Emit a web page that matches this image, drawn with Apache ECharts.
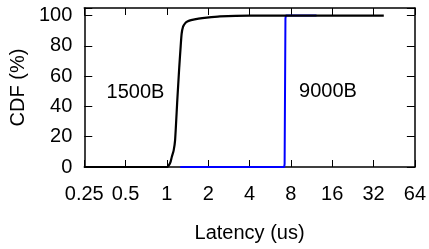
<!DOCTYPE html>
<html>
<head>
<meta charset="utf-8">
<script src="https://cdn.jsdelivr.net/npm/echarts@6/dist/echarts.min.js"></script>
<style>
  html, body { margin: 0; padding: 0; background: #fff; }
  #chart { width: 429px; height: 249px; }
</style>
</head>
<body>
<div id="chart"></div>
<script>
// 1500B packets, CDF of latency (us, %)
const x1500 = [0.25, 1.0, 1.03, 1.06, 1.085, 1.12, 1.147, 1.19, 1.23, 1.26, 1.28, 1.31, 1.36, 1.42, 1.5, 1.7, 1.95, 2.43, 4, 38];
const y1500 = [0, 0, 1, 3, 6.6, 11, 17.7, 44, 66, 80, 88, 92.5, 95, 96.2, 97, 98, 98.7, 99.5, 100, 100];

// 9000B packets
const x9000 = [1.25, 7.15, 7.2, 7.3, 7.35, 12.3];
const y9000 = [0, 0, 2, 98, 100, 100];

const xTicks = [0.25, 0.5, 1, 2, 4, 8, 16, 32, 64];
const yTicks = [0, 20, 40, 60, 80, 100];

// text labels inside the plot
const noteText = ["1500B", "9000B"];
const noteX = [0.59, 14.9];
const noteY = [49.5, 50];

const FONT = "Liberation Sans";
const pair = (xs, ys) => xs.map((x, i) => [x, ys[i]]);

const chart = echarts.init(document.getElementById("chart"));

const logX = (pos, show) => ({
  type: "log",
  logBase: 2,
  position: pos,
  min: xTicks[0],
  max: xTicks[xTicks.length - 1],
  splitNumber: xTicks.length - 1,
  axisLine: { show: true, onZero: false, lineStyle: { color: "#000", width: 1.5 } },
  axisTick: { show: true, inside: true, length: 7, lineStyle: { color: "#000" } },
  axisLabel: {
    show: show,
    margin: 17,
    color: "#000",
    fontFamily: FONT,
    fontSize: 20,
    formatter: (v) => String(Number(v.toPrecision(3))),
  },
  splitLine: { show: false },
});

const linY = (pos, show) => ({
  type: "value",
  position: pos,
  min: 0,
  max: 105,
  interval: 20,
  axisLine: { show: true, lineStyle: { color: "#000", width: 1.5 } },
  axisTick: { show: true, inside: true, length: 8, lineStyle: { color: "#000" } },
  axisLabel: {
    show: show,
    margin: 12,
    color: "#000",
    fontFamily: FONT,
    fontSize: 20,
    formatter: (v) => (yTicks.indexOf(v) >= 0 ? String(v) : ""),
  },
  splitLine: { show: false },
});

const xBottom = logX("bottom", true);
xBottom.name = "Latency (us)";
xBottom.nameLocation = "middle";
xBottom.nameGap = 56;
xBottom.nameTextStyle = { color: "#000", fontFamily: FONT, fontSize: 20 };

const yLeft = linY("left", true);
yLeft.name = "CDF (%)";
yLeft.nameLocation = "middle";
yLeft.nameGap = 48;
yLeft.nameTextStyle = { color: "#000", fontFamily: FONT, fontSize: 20 };

const option = {
  animation: false,
  grid: { left: 84, right: 14, top: 8, bottom: 82 },
  xAxis: [xBottom, logX("top", false)],
  yAxis: [yLeft, linY("right", false)],
  series: [
    {
      name: "1500B",
      type: "line",
      data: pair(x1500, y1500),
      showSymbol: false,
      smooth: 0.2,
      lineStyle: { color: "#000", width: 2.2 },
      z: 3,
    },
    {
      name: "9000B",
      type: "line",
      data: pair(x9000, y9000),
      showSymbol: false,
      lineStyle: { color: "#0000ff", width: 2 },
      z: 2,
    },
    {
      type: "scatter",
      data: noteText.map((t, i) => ({ value: [noteX[i], noteY[i]], name: t })),
      symbolSize: 0,
      silent: true,
      itemStyle: { opacity: 1 },
      label: {
        show: true,
        position: "inside",
        formatter: (p) => p.name,
        color: "#000",
        opacity: 1,
        fontFamily: FONT,
        fontSize: 20,
      },
    },
  ],
};

chart.setOption(option);
</script>
</body>
</html>
